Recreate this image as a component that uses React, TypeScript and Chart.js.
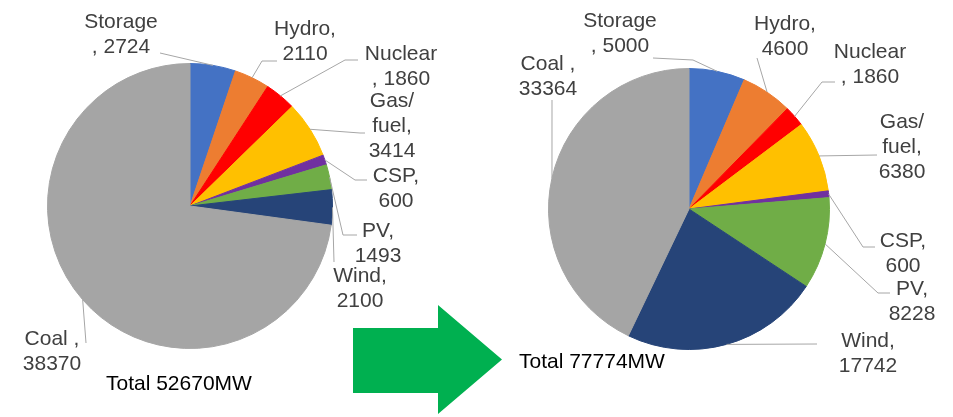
import React, { useEffect, useRef } from "react";
import { Chart, registerables } from "chart.js";

Chart.register(...registerables);

// ---- data ----
const categories = ["Storage", "Hydro", "Nuclear", "Gas/fuel", "CSP", "PV", "Wind", "Coal"];
const valuesBefore = [2724, 2110, 1860, 3414, 600, 1493, 2100, 38370];
const valuesAfter = [5000, 4600, 1860, 6380, 600, 8228, 17742, 33364];
const totalBefore = "Total 52670MW";
const totalAfter = "Total 77774MW";
const colors = ["#4472C4", "#ED7D31", "#FF0000", "#FFC000", "#7030A0", "#70AD47", "#264478", "#A5A5A5"];

// label wrap formats (Excel-style wrapping), {n} = name, {v} = value
const labelFormats = ["{n}\n, {v}", "{n},\n{v}", "{n}\n, {v}", "Gas/\nfuel,\n{v}", "{n},\n{v}", "{n},\n{v}", "{n},\n{v}", "{n} ,\n{v}"];

type LabelLayout = { cx: number; y: number; path: number[][] };

const layoutBefore: LabelLayout[] = [
  { cx: 121, y: 28, path: [[160, 53]] },
  { cx: 305, y: 35, path: [[262, 61], [277, 61]] },
  { cx: 401, y: 60, path: [[345, 60], [358, 60]] },
  { cx: 392, y: 107, path: [[360, 133], [365, 133]] },
  { cx: 396, y: 182, path: [[355, 180], [367, 180]] },
  { cx: 378, y: 237, path: [[343, 235], [357, 235]] },
  { cx: 360, y: 282, path: [[334, 262]] },
  { cx: 52, y: 345, path: [[86, 343]] },
];

const layoutAfter: LabelLayout[] = [
  { cx: 620, y: 27, path: [[693, 60], [653, 58]] },
  { cx: 785, y: 30, path: [[757, 58]] },
  { cx: 870, y: 58, path: [[822, 82], [835, 82]] },
  { cx: 902, y: 128, path: [[877, 155]] },
  { cx: 903, y: 247, path: [[863, 247], [875, 247]] },
  { cx: 912, y: 295, path: [[878, 293], [890, 293]] },
  { cx: 868, y: 347, path: [[817, 344]] },
  { cx: 548, y: 70, path: [[552, 100]] },
];

const W = 953;
const H = 417;
const FONT = '21px "Liberation Sans", Arial, sans-serif';

function makeLabelPlugin(layout: LabelLayout[], values: number[], total: string, totalPos: number[], drawArrow: boolean) {
  return {
    id: "labels",
    afterDraw(chart: any) {
      const ctx = chart.ctx as CanvasRenderingContext2D;
      const meta = chart.getDatasetMeta(0);
      ctx.save();
      meta.data.forEach((arc: any, i: number) => {
        const p = arc.getProps(["x", "y", "startAngle", "endAngle", "outerRadius"], true);
        const mid = (p.startAngle + p.endAngle) / 2;
        const sx = p.x + Math.cos(mid) * p.outerRadius;
        const sy = p.y + Math.sin(mid) * p.outerRadius;
        const l = layout[i];
        ctx.strokeStyle = "#A6A6A6";
        ctx.lineWidth = 1;
        ctx.beginPath();
        ctx.moveTo(sx, sy);
        l.path.forEach((pt) => ctx.lineTo(pt[0], pt[1]));
        ctx.stroke();
        const text = labelFormats[i].replace("{n}", categories[i]).replace("{v}", String(values[i]));
        ctx.fillStyle = "#404040";
        ctx.font = FONT;
        ctx.textAlign = "center";
        ctx.textBaseline = "alphabetic";
        text.split("\n").forEach((line, k) => ctx.fillText(line, l.cx, l.y + k * 25));
      });
      ctx.fillStyle = "#000000";
      ctx.font = FONT;
      ctx.textAlign = "left";
      ctx.fillText(total, totalPos[0], totalPos[1]);
      if (drawArrow) {
        ctx.fillStyle = "#00B050";
        ctx.beginPath();
        ctx.moveTo(353, 328);
        ctx.lineTo(438, 328);
        ctx.lineTo(438, 305);
        ctx.lineTo(502, 359.5);
        ctx.lineTo(438, 414);
        ctx.lineTo(438, 393);
        ctx.lineTo(353, 393);
        ctx.closePath();
        ctx.fill();
      }
      ctx.restore();
    },
  };
}

function PieCanvas(props: { values: number[]; layout: LabelLayout[]; padding: any; total: string; totalPos: number[]; arrow: boolean }) {
  const ref = useRef<HTMLCanvasElement | null>(null);
  useEffect(() => {
    if (!ref.current) return;
    const chart = new Chart(ref.current, {
      type: "pie",
      data: {
        labels: categories,
        datasets: [
          {
            data: props.values,
            backgroundColor: colors,
            borderColor: colors,
            borderWidth: 1,
          },
        ],
      },
      options: {
        responsive: false,
        animation: false,
        layout: { padding: props.padding },
        plugins: { legend: { display: false }, tooltip: { enabled: false } },
      },
      plugins: [makeLabelPlugin(props.layout, props.values, props.total, props.totalPos, props.arrow)],
    } as any);
    return () => chart.destroy();
  }, []);
  return (
    <canvas
      ref={ref}
      width={W}
      height={H}
      style={{ position: "absolute", left: 0, top: 0, width: W, height: H }}
    />
  );
}

export default function App() {
  return (
    <div style={{ position: "absolute", left: 0, top: 0, width: W, height: H, background: "#ffffff", overflow: "hidden" }}>
      <PieCanvas
        values={valuesBefore}
        layout={layoutBefore}
        padding={{ left: 47, right: 620, top: 63, bottom: 68 }}
        total={totalBefore}
        totalPos={[106, 390]}
        arrow={true}
      />
      <PieCanvas
        values={valuesAfter}
        layout={layoutAfter}
        padding={{ left: 548, right: 123, top: 68, bottom: 67 }}
        total={totalAfter}
        totalPos={[519, 368]}
        arrow={false}
      />
    </div>
  );
}
